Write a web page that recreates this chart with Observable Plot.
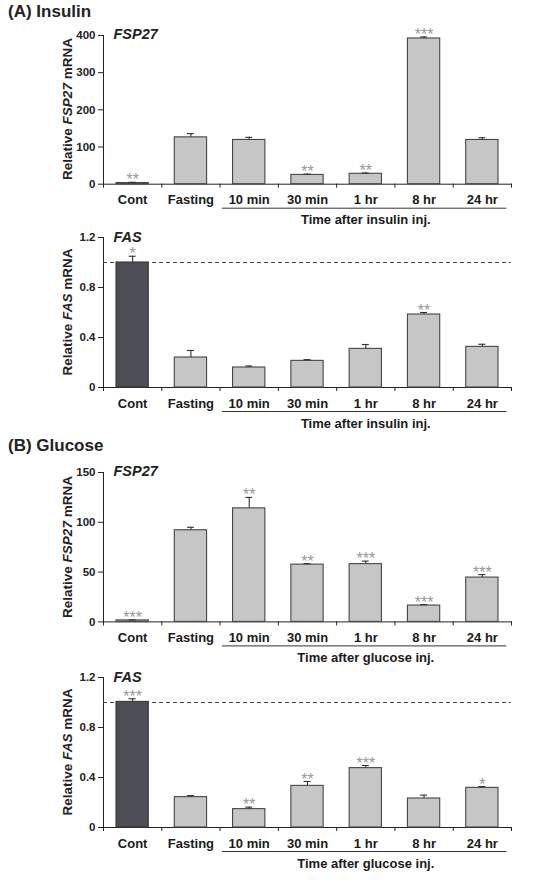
<!DOCTYPE html>
<html><head><meta charset="utf-8">
<script src="https://cdn.jsdelivr.net/npm/d3@7"></script>
<script src="https://cdn.jsdelivr.net/npm/@observablehq/plot@0.6"></script>
<style>
body{margin:0;background:#fff;font-family:"Liberation Sans",Arial,sans-serif;}
#wrap{position:relative;width:536px;height:881px;overflow:hidden;background:#fff;}
.head{position:absolute;left:8px;font-weight:bold;font-size:17px;line-height:1;color:#222;white-space:nowrap}
.ylab{position:absolute;font-weight:bold;font-size:13.5px;line-height:1;white-space:nowrap;color:#222;transform:translate(-50%,-50%) rotate(-90deg);}
.panel{position:absolute;left:0;}
</style></head><body><div id="wrap"></div>
<script>
const categories = ["Cont", "Fasting", "10 min", "30 min", "1 hr", "8 hr", "24 hr"];

// (A) Insulin
const insulinFSP27 = [3, 126, 119, 25, 28, 392, 119];
const insulinFSP27Err = [2, 10, 7, 2, 2, 4, 6];
const insulinFSP27Sig = ["**", "", "", "**", "**", "***", ""];
const insulinFAS = [1.0, 0.24, 0.16, 0.213, 0.309, 0.584, 0.325];
const insulinFASErr = [0.05, 0.056, 0.012, 0.01, 0.035, 0.016, 0.021];
const insulinFASSig = ["*", "", "", "", "", "**", ""];

// (B) Glucose
const glucoseFSP27 = [1.5, 92, 114, 57.5, 58, 16.4, 44.5];
const glucoseFSP27Err = [0.5, 3, 11, 1, 3, 1, 3];
const glucoseFSP27Sig = ["***", "", "**", "**", "***", "***", "***"];
const glucoseFAS = [1.005, 0.243, 0.147, 0.333, 0.475, 0.232, 0.317];
const glucoseFASErr = [0.025, 0.012, 0.016, 0.035, 0.021, 0.027, 0.011];
const glucoseFASSig = ["***", "", "**", "**", "***", "", "*"];

const ticksFSP27A = [0, 100, 200, 300, 400];
const ticksFSP27B = [0, 50, 100, 150];
const ticksFAS = [0, 0.4, 0.8, 1.2];

const wrap = document.getElementById("wrap");

function heading(html, top) {
  const d = document.createElement("div");
  d.className = "head";
  d.style.top = top + "px";
  d.innerHTML = html;
  wrap.appendChild(d);
}

function ylabel(gene, cx, cy) {
  const d = document.createElement("div");
  d.className = "ylab";
  d.style.left = cx + "px";
  d.style.top = cy + "px";
  d.innerHTML = "Relative <i>" + gene + "</i> mRNA";
  wrap.appendChild(d);
}

function panel({top, areaH, gene, values, errors, stars, yMax, yTicks, tickFormat, dark, timeLabel}) {
  const mT = 15, mB = 50;
  const data = categories.map((c, i) => ({i, cat: c, v: values[i], e: errors[i], s: stars[i]}));
  const hw = 0.277, cap = 0.06;
  const marks = [];
  if (dark) marks.push(Plot.ruleY([1], {stroke: "#444", strokeWidth: 1, strokeDasharray: "4,3"}));
  marks.push(Plot.rectY(data.filter(d => !(dark && d.i === 0)), {x1: d => d.i - hw, x2: d => d.i + hw, y1: 0, y2: "v", fill: "#c6c6c6", stroke: "#454545", strokeWidth: 1.1}));
  if (dark) marks.push(Plot.rectY(data.filter(d => d.i === 0), {x1: d => d.i - hw, x2: d => d.i + hw, y1: 0, y2: "v", fill: "#4d4d55", stroke: "#3a3a3a", strokeWidth: 1.1}));
  marks.push(Plot.ruleX(data, {x: "i", y1: "v", y2: d => d.v + d.e, stroke: "#333", strokeWidth: 1.1}));
  marks.push(Plot.ruleY(data, {y: d => d.v + d.e, x1: d => d.i - cap, x2: d => d.i + cap, stroke: "#333", strokeWidth: 1.1}));
  marks.push(Plot.text(data.filter(d => d.s), {x: "i", y: d => d.v + d.e, text: "s", lineAnchor: "bottom", dy: 3, fill: "#999", fontSize: 16, fontWeight: "normal"}));
  marks.push(Plot.text(data, {x: "i", y: () => 0, text: "cat", dy: 16, fontSize: 13, fontWeight: "bold", fill: "#1a1a1a"}));
  marks.push(Plot.ruleY([0], {x1: 1.54, x2: 6.42, dy: 24, stroke: "#333", strokeWidth: 1}));
  marks.push(Plot.text([timeLabel], {x: () => 4, y: () => 0, text: d => d, dy: 36, fontSize: 13, fontWeight: "bold", fill: "#1a1a1a"}));
  marks.push(Plot.text([gene], {frameAnchor: "top-left", text: d => d, textAnchor: "start", lineAnchor: "bottom", dx: 10, dy: 4, fontSize: 14.5, fontStyle: "italic", fontWeight: "bold", fill: "#222"}));
  const svg = Plot.plot({
    width: 536, height: mT + areaH + mB,
    marginLeft: 103, marginRight: 25, marginTop: mT, marginBottom: mB,
    style: {background: "transparent", overflow: "visible", fontFamily: "'Liberation Sans', Arial, sans-serif", fontSize: "11.5px", fontWeight: "bold", color: "#222"},
    x: {domain: [-0.5, 6.5], ticks: d3.range(-0.5, 7, 1), tickFormat: () => "", tickSize: 4, line: true, label: null},
    y: {domain: [0, yMax], ticks: yTicks, tickFormat, tickSize: 5, tickPadding: 3, line: true, label: null},
    marks
  });
  const holder = document.createElement("div");
  holder.className = "panel";
  holder.style.top = (top - mT) + "px";
  holder.appendChild(svg);
  wrap.appendChild(holder);
  ylabel(gene, 68, top + areaH / 2);
}

const fmtFAS = d => d === 0 ? "0" : d.toFixed(1);
const fmtInt = d => String(d);

heading("(A) Insulin", 3);
panel({top: 35, areaH: 148.7, gene: "FSP27", values: insulinFSP27, errors: insulinFSP27Err, stars: insulinFSP27Sig, yMax: 400, yTicks: ticksFSP27A, tickFormat: fmtInt, dark: false, timeLabel: "Time after insulin inj."});
panel({top: 237.3, areaH: 150, gene: "FAS", values: insulinFAS, errors: insulinFASErr, stars: insulinFASSig, yMax: 1.2, yTicks: ticksFAS, tickFormat: fmtFAS, dark: true, timeLabel: "Time after insulin inj."});
heading("(B) Glucose", 437);
panel({top: 472.3, areaH: 149.4, gene: "FSP27", values: glucoseFSP27, errors: glucoseFSP27Err, stars: glucoseFSP27Sig, yMax: 150, yTicks: ticksFSP27B, tickFormat: fmtInt, dark: false, timeLabel: "Time after glucose inj."});
panel({top: 677.3, areaH: 150, gene: "FAS", values: glucoseFAS, errors: glucoseFASErr, stars: glucoseFASSig, yMax: 1.2, yTicks: ticksFAS, tickFormat: fmtFAS, dark: true, timeLabel: "Time after glucose inj."});
</script></body></html>
